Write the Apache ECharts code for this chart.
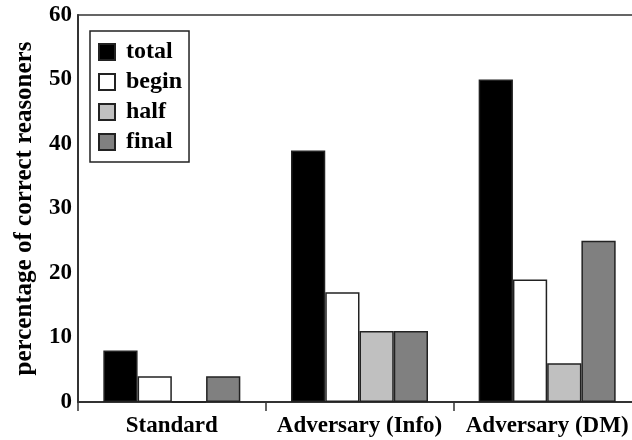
<!DOCTYPE html>
<html>
<head>
<meta charset="utf-8">
<script src="https://cdn.jsdelivr.net/npm/echarts@6/dist/echarts.min.js"></script>
<style>
  html, body { margin: 0; padding: 0; background: #fff; }
  #main { width: 632px; height: 440px; }
</style>
</head>
<body>
<div id="main"></div>
<script>
var categories = ['Standard', 'Adversary (Info)', 'Adversary (DM)'];
var seriesNames = ['total', 'begin', 'half', 'final'];
var totalValues = [8, 39, 50];
var beginValues = [4, 17, 19];
var halfValues = [0, 11, 6];
var finalValues = [4, 11, 25];
var yTicks = [0, 10, 20, 30, 40, 50, 60];

var COLORS = ['#000000', '#ffffff', '#c0c0c0', '#808080'];
var FONT = '"Liberation Serif", "DejaVu Serif", serif';

var chart = echarts.init(document.getElementById('main'));

function bar(name, values, color) {
  return {
    name: name,
    type: 'bar',
    data: values,
    barGap: '0%',
    barCategoryGap: '27%',
    animation: false,
    itemStyle: { color: color, borderColor: '#222', borderWidth: 1.5 }
  };
}

var option = {
  backgroundColor: '#fff',
  textStyle: { fontFamily: FONT },
  grid: {
    left: 78, top: 15, bottom: 38, right: -9,
    outerBoundsMode: 'none',
    show: true, borderColor: '#333', borderWidth: 1.5
  },
  legend: {
    orient: 'vertical',
    left: 90, top: 31,
    padding: [9, 7, 8, 8],
    itemGap: 6,
    itemWidth: 16, itemHeight: 16,
    borderColor: '#222', borderWidth: 1.5,
    data: seriesNames,
    icon: 'rect',
    textStyle: { fontFamily: FONT, fontWeight: 'bold', fontSize: 24, color: '#000', padding: [0, 0, 0, 6] }
  },
  xAxis: {
    type: 'category',
    data: categories,
    axisLine: { lineStyle: { color: '#333', width: 2 } },
    axisTick: { show: true, interval: 0, length: 9, lineStyle: { color: '#333', width: 1.5 } },
    axisLabel: {
      interval: 0, hideOverlap: false,
      fontFamily: FONT, fontWeight: 'bold', fontSize: 23, color: '#000', margin: 13
    }
  },
  yAxis: {
    type: 'value',
    min: yTicks[0], max: yTicks[yTicks.length - 1], interval: 10,
    name: 'percentage of correct reasoners',
    nameLocation: 'middle',
    nameGap: 41,
    nameTextStyle: { fontFamily: FONT, fontWeight: 'bold', fontSize: 25, color: '#000' },
    axisLine: { show: true, lineStyle: { color: '#333', width: 2 } },
    axisTick: { show: false },
    splitLine: { show: false },
    axisLabel: { fontFamily: FONT, fontWeight: 'bold', fontSize: 23, color: '#000', margin: 6 }
  },
  series: [
    bar(seriesNames[0], totalValues, COLORS[0]),
    bar(seriesNames[1], beginValues, COLORS[1]),
    bar(seriesNames[2], halfValues, COLORS[2]),
    bar(seriesNames[3], finalValues, COLORS[3])
  ]
};
chart.setOption(option);
</script>
</body>
</html>
